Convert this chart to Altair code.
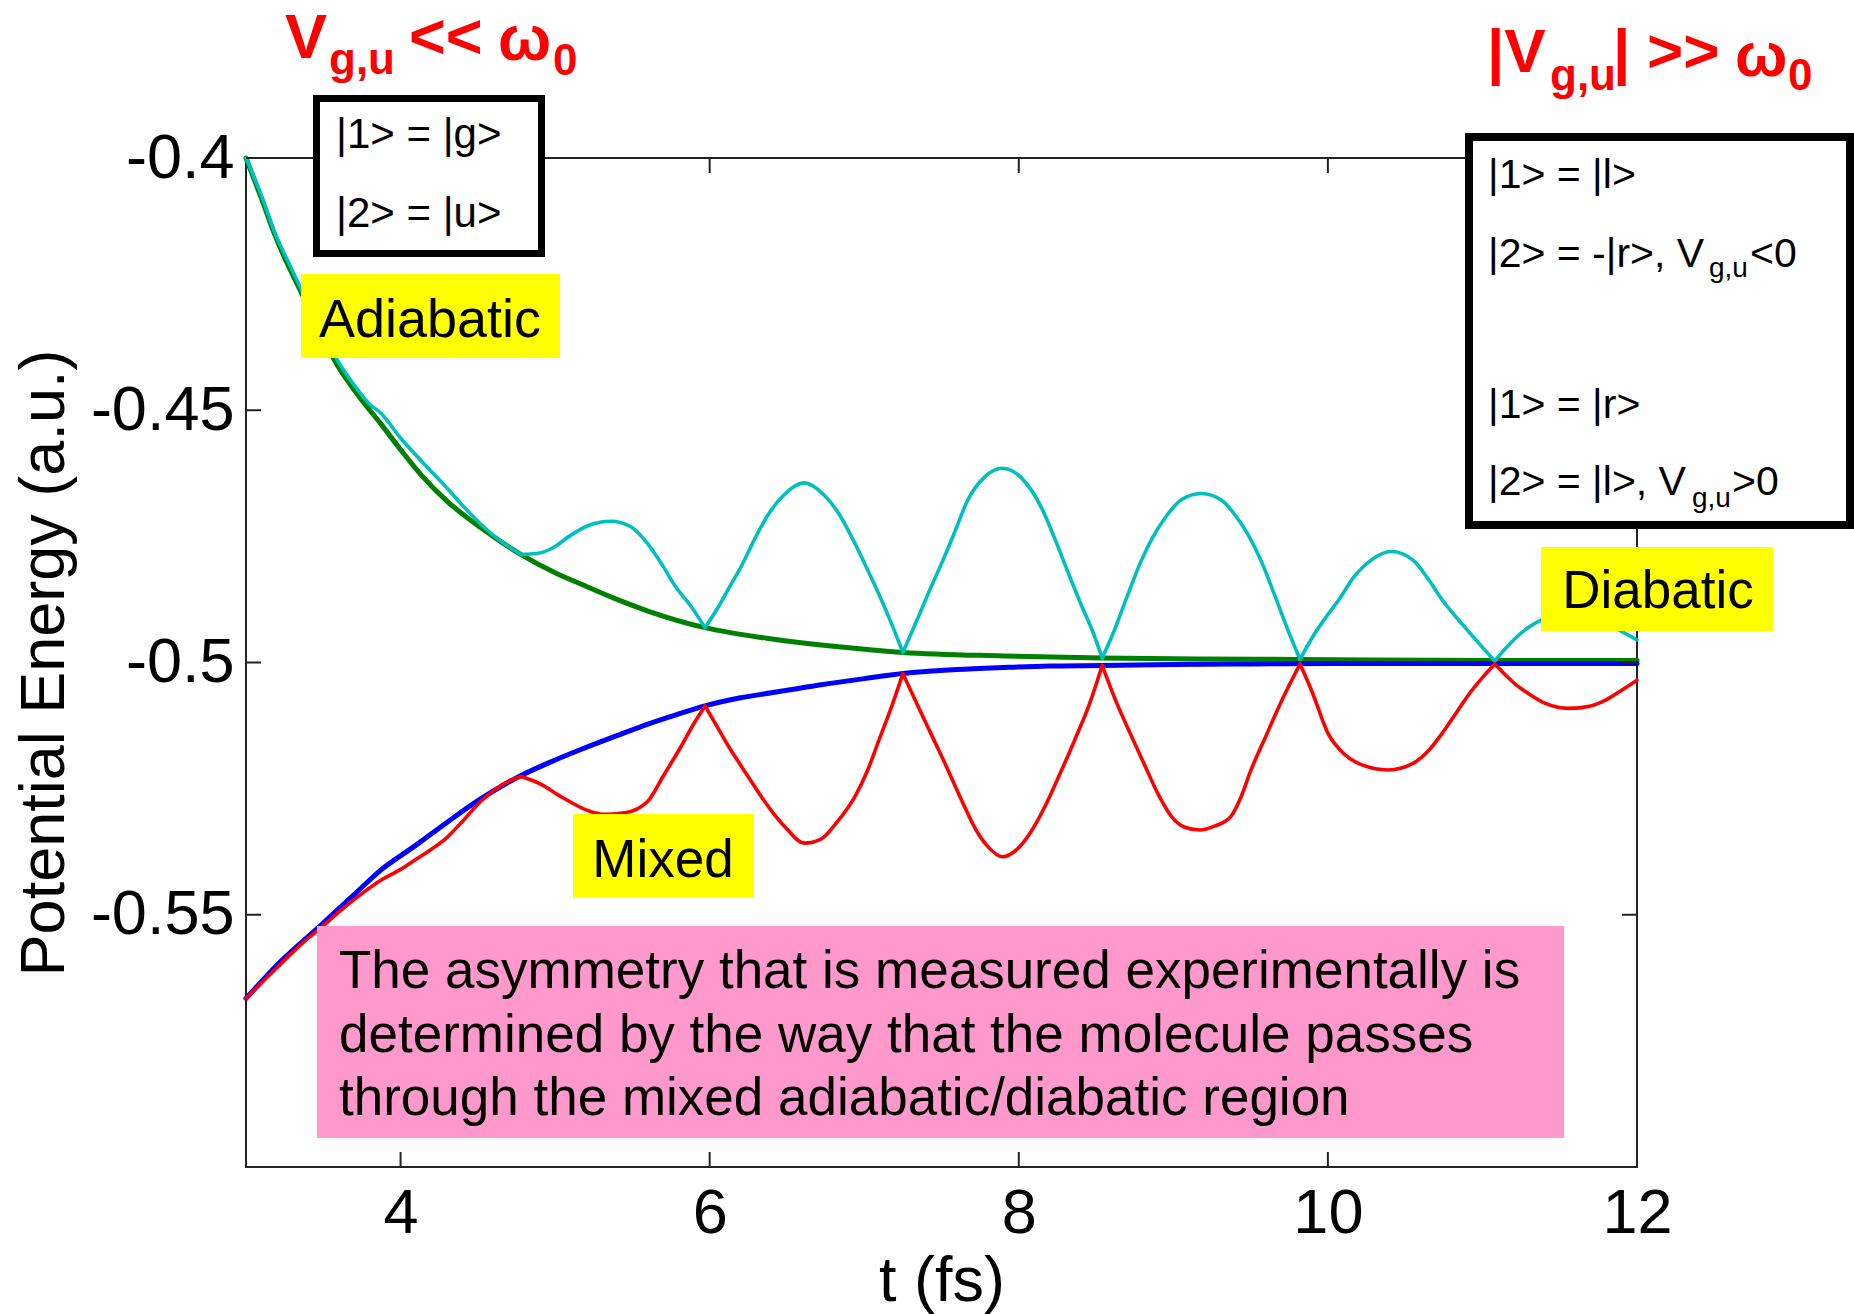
import altair as alt
import pandas as pd

FONT = "Liberation Sans"
FRAME = "#222222"

# Adiabatic upper surface (green)
green_t = [3.00, 3.10, 3.19, 3.36, 3.59, 3.75, 3.87, 4.00, 4.13, 4.30, 4.52, 4.78,
           5.00, 5.17, 5.40, 5.60, 5.97, 6.37, 6.80, 7.25, 7.90, 8.54, 9.20, 9.82,
           11.08, 12.00]
green_e = [-0.4000, -0.4080, -0.4155, -0.4268, -0.4410, -0.4480, -0.4526, -0.4578,
           -0.4627, -0.4680, -0.4733, -0.4786, -0.4822, -0.4845, -0.4875, -0.4898,
           -0.4931, -0.4952, -0.4968, -0.4980, -0.4987, -0.4991, -0.4993, -0.4994,
           -0.4996, -0.4996]

# Adiabatic lower surface (blue)
blue_t = [3.00, 3.20, 3.48, 3.70, 3.87, 4.10, 4.30, 4.52, 4.78, 4.95, 5.17, 5.40,
          5.60, 5.80, 5.97, 6.20, 6.40, 6.70, 7.00, 7.25, 7.60, 7.90, 8.20, 8.54,
          9.00, 9.50, 10.00, 11.00, 12.00]
blue_e = [-0.5666, -0.5600, -0.5522, -0.5460, -0.5412, -0.5362, -0.5317, -0.5270,
          -0.5224, -0.5200, -0.5172, -0.5145, -0.5122, -0.5102, -0.5086, -0.5070,
          -0.5060, -0.5045, -0.5032, -0.5022, -0.5014, -0.5010, -0.5007, -0.5006,
          -0.5004, -0.5003, -0.5002, -0.5002, -0.5002]

# Mixed upper surface (cyan)
cyan_t = [3.00, 3.10, 3.19, 3.28, 3.36, 3.48, 3.59, 3.70, 3.80, 3.87, 4.00, 4.13,
          4.30, 4.42, 4.52, 4.65, 4.78, 4.88, 4.99, 5.10, 5.22, 5.36, 5.49, 5.60,
          5.70, 5.78, 5.88, 5.97, 6.05, 6.12, 6.20, 6.30, 6.37, 6.48, 6.61, 6.74,
          6.85, 6.92, 7.02, 7.10, 7.17, 7.25, 7.35, 7.43, 7.51, 7.59, 7.67, 7.78,
          7.895, 8.02, 8.15, 8.24, 8.33, 8.41, 8.48, 8.54, 8.62, 8.70, 8.79, 8.87,
          8.95, 9.05, 9.18, 9.31, 9.41, 9.49, 9.57, 9.66, 9.74, 9.82, 9.90, 10.00,
          10.07, 10.17, 10.28, 10.41, 10.55, 10.65, 10.74, 10.83, 10.92, 11.00, 11.08,
          11.15, 11.22, 11.29, 11.38, 11.48, 11.56, 11.66, 11.76, 11.86, 11.94, 12.00]
cyan_e = [-0.4000, -0.4075, -0.4151, -0.4210, -0.4262, -0.4335, -0.4400, -0.4450,
          -0.4488, -0.4505, -0.4555, -0.4599, -0.4654, -0.4695, -0.4726, -0.4760,
          -0.4786, -0.4784, -0.4772, -0.4748, -0.4728, -0.4720, -0.4731, -0.4765,
          -0.4810, -0.4850, -0.4889, -0.4931, -0.4893, -0.4855, -0.4812, -0.4750,
          -0.4711, -0.4668, -0.4644, -0.4668, -0.4712, -0.4752, -0.4815, -0.4868,
          -0.4918, -0.4980, -0.4910, -0.4852, -0.4797, -0.4738, -0.4678, -0.4632,
          -0.4615, -0.4635, -0.4695, -0.4760, -0.4830, -0.4890, -0.4940, -0.4991,
          -0.4935, -0.4870, -0.4800, -0.4750, -0.4712, -0.4678, -0.4665, -0.4678,
          -0.4712, -0.4750, -0.4800, -0.4870, -0.4935, -0.4994, -0.4950, -0.4905,
          -0.4876, -0.4830, -0.4797, -0.4780, -0.4797, -0.4835, -0.4876, -0.4910,
          -0.4942, -0.4970, -0.4997, -0.4972, -0.4950, -0.4932, -0.4916, -0.4907,
          -0.4905, -0.4909, -0.4918, -0.4932, -0.4945, -0.4955]

# Mixed lower surface (red)
red_t = [3.00, 3.10, 3.20, 3.30, 3.40, 3.48, 3.60, 3.72, 3.87, 4.00, 4.10, 4.20,
         4.30, 4.40, 4.52, 4.62, 4.70, 4.78, 4.90, 5.05, 5.20, 5.31, 5.45, 5.60,
         5.70, 5.81, 5.90, 5.97, 6.05, 6.12, 6.24, 6.33, 6.42, 6.50, 6.61, 6.72,
         6.82, 6.94, 7.02, 7.10, 7.18, 7.25, 7.33, 7.43, 7.53, 7.63, 7.72, 7.80,
         7.895, 7.99, 8.08, 8.17, 8.26, 8.36, 8.46, 8.54, 8.62, 8.72, 8.82, 8.90,
         8.99, 9.07, 9.17, 9.27, 9.37, 9.44, 9.50, 9.60, 9.71, 9.82, 9.90, 10.00,
         10.10, 10.22, 10.39, 10.55, 10.65, 10.74, 10.83, 10.92, 11.00, 11.08, 11.15,
         11.22, 11.29, 11.40, 11.56, 11.70, 11.80, 11.90, 12.00]
red_e = [-0.5666, -0.5635, -0.5605, -0.5575, -0.5547, -0.5527, -0.5495, -0.5465,
         -0.5432, -0.5410, -0.5390, -0.5370, -0.5347, -0.5315, -0.5275, -0.5250,
         -0.5235, -0.5226, -0.5240, -0.5268, -0.5292, -0.5301, -0.5298, -0.5275,
         -0.5225, -0.5169, -0.5120, -0.5086, -0.5128, -0.5165, -0.5222, -0.5264,
         -0.5302, -0.5330, -0.5358, -0.5350, -0.5318, -0.5266, -0.5215, -0.5150,
         -0.5085, -0.5022, -0.5075, -0.5140, -0.5205, -0.5273, -0.5330, -0.5365,
         -0.5385, -0.5370, -0.5335, -0.5285, -0.5225, -0.5155, -0.5080, -0.5006,
         -0.5070, -0.5140, -0.5207, -0.5260, -0.5306, -0.5326, -0.5332, -0.5324,
         -0.5306, -0.5265, -0.5215, -0.5145, -0.5070, -0.5003, -0.5060, -0.5140,
         -0.5180, -0.5203, -0.5213, -0.5200, -0.5175, -0.5140, -0.5100, -0.5060,
         -0.5030, -0.5003, -0.5025, -0.5045, -0.5060, -0.5080, -0.5091, -0.5086,
         -0.5074, -0.5055, -0.5035]

# times where the mixed curves meet the adiabatic ones
crossing_t = [4.78, 5.97, 7.25, 8.54, 9.82, 11.08]

x_tick_values = [4, 6, 8, 10, 12]
y_tick_values = [-0.55, -0.5, -0.45, -0.4]

W, H = 1391, 1009
TICK = 15

x_scale = alt.Scale(domain=[3, 12], nice=False, zero=False)
y_scale = alt.Scale(domain=[-0.6, -0.4], nice=False, zero=False)

x_axis = alt.Axis(values=x_tick_values, title="t (fs)", domain=False, ticks=False,
                  tickSize=0, grid=False, labelFontSize=63, labelPadding=15,
                  labelFlush=False, labelOverlap=False, titleFontSize=63,
                  titleFontWeight="normal", titlePadding=5)
y_axis = alt.Axis(values=y_tick_values, title="Potential Energy (a.u.)", domain=False,
                  ticks=False, tickSize=0, grid=False, labelFontSize=63,
                  labelPadding=12, labelOverlap=False,
                  labelExpr="datum.value + ''", titleFontSize=63,
                  titleFontWeight="normal", titlePadding=14)


def X():
    return alt.X("t:Q", scale=x_scale, axis=x_axis)


def Y():
    return alt.Y("e:Q", scale=y_scale, axis=y_axis)


def split_arcs(ts, es, cuts):
    """Split a curve into arcs between crossing points (each cut point kept in both arcs)."""
    bounds = [ts[0]] + list(cuts) + [ts[-1]]
    rows = []
    for i in range(len(bounds) - 1):
        lo, hi = bounds[i], bounds[i + 1]
        for t, e in zip(ts, es):
            if lo <= t <= hi:
                rows.append({"t": t, "e": e, "seg": i})
    return pd.DataFrame(rows)


def curve(ts, es, color, width, cuts=()):
    df = split_arcs(ts, es, cuts)
    return alt.Chart(df).mark_line(color=color, strokeWidth=width, interpolate="monotone",
                                   strokeJoin="round", strokeCap="round").encode(
        x=X(), y=Y(), detail="seg:N")


one = pd.DataFrame({"k": [0]})


def box(x1, x2, y1, y2, fill, stroke=None, sw=0):
    opts = dict(fill=fill)
    if stroke:
        opts.update(stroke=stroke, strokeWidth=sw)
    return alt.Chart(one).mark_rect(**opts).encode(
        x=alt.value(x1), x2=alt.value(x2), y=alt.value(y1), y2=alt.value(y2))


def txt(s, x, y, size, color="black", weight="normal", align="left"):
    return alt.Chart(one).mark_text(text=s, fontSize=size, font=FONT, fontWeight=weight,
                                    color=color, align=align, baseline="alphabetic").encode(
        x=alt.value(x), y=alt.value(y))


# frame and inward ticks on all four sides
frame = alt.Chart(one).mark_rect(fillOpacity=0, stroke=FRAME, strokeWidth=2).encode(
    x=alt.value(0), x2=alt.value(W), y=alt.value(0), y2=alt.value(H))
xt = pd.DataFrame({"t": x_tick_values})
yt = pd.DataFrame({"e": y_tick_values})
ticks = [
    alt.Chart(xt).mark_rule(color=FRAME, strokeWidth=2).encode(
        x=X(), y=alt.value(H), y2=alt.value(H - TICK)),
    alt.Chart(xt).mark_rule(color=FRAME, strokeWidth=2).encode(
        x=X(), y=alt.value(0), y2=alt.value(TICK)),
    alt.Chart(yt).mark_rule(color=FRAME, strokeWidth=2).encode(
        y=Y(), x=alt.value(0), x2=alt.value(TICK)),
    alt.Chart(yt).mark_rule(color=FRAME, strokeWidth=2).encode(
        y=Y(), x=alt.value(W), x2=alt.value(W - TICK)),
]

curves = [
    curve(green_t, green_e, "#008000", 5),
    curve(blue_t, blue_e, "#0000FF", 5),
    curve(cyan_t, cyan_e, "#00BFBF", 3.6, crossing_t),
    curve(red_t, red_e, "#FF0000", 3.6, crossing_t),
]

RED = "#FF0000"
notes = [
    # basis box, weak coupling
    box(70.5, 295.5, -59.5, 95.5, "white", "black", 7),
    txt("|1> = |g>", 90, -10, 42),
    txt("|2> = |u>", 90, 69, 42),
    # basis box, strong coupling
    box(1223, 1604, -21, 367, "white", "black", 8),
    txt("|1> = |l>", 1242, 30, 41),
    txt("|2> = -|r>, V", 1242, 109, 41),
    txt("g,u", 1463, 119, 28),
    txt("<0", 1504, 109, 41),
    txt("|1> = |r>", 1242, 260, 41),
    txt("|2> = |l>, V", 1242, 337, 41),
    txt("g,u", 1446, 349, 28),
    txt(">0", 1486, 337, 41),
    # regime labels
    box(55, 314, 116, 200, "#FFFF00"),
    txt("Adiabatic", 184, 179, 54, align="center"),
    box(327, 508, 656, 740, "#FFFF00"),
    txt("Mixed", 417, 719, 53, align="center"),
    box(1295, 1527, 389, 473, "#FFFF00"),
    txt("Diabatic", 1412, 450, 53, align="center"),
    box(71, 1318, 768, 980, "#FF99CC"),
    txt("The asymmetry that is measured experimentally is", 93, 830, 53),
    txt("determined by the way that the molecule passes", 93, 894, 53),
    txt("through the mixed adiabatic/diabatic region", 93, 957, 53),
    # coupling-strength headings
    txt("V", 39, -100, 63, RED, "bold"),
    txt("g,u", 83, -84, 44, RED, "bold"),
    txt("<<", 163, -100, 63, RED, "bold"),
    txt("\u03c9", 252, -98, 63, RED, "bold"),
    txt("0", 307, -83, 44, RED, "bold"),
    txt("|V", 1241, -86, 62, RED, "bold"),
    txt("g,u", 1304, -68, 44, RED, "bold"),
    txt("|", 1367, -86, 62, RED, "bold"),
    txt(">>", 1401, -86, 62, RED, "bold"),
    txt("\u03c9", 1489, -82, 62, RED, "bold"),
    txt("0", 1542, -68, 44, RED, "bold"),
]

chart = alt.layer(frame, *curves, *ticks, *notes).properties(
    width=W, height=H,
    padding={"left": 246, "top": 158, "right": 217, "bottom": 147},
    autosize=alt.AutoSizeParams(type="none"),
).configure_view(stroke=None).configure_axis(
    labelFont=FONT, titleFont=FONT, labelColor="black", titleColor="black",
).configure(background="white")

chart.save("out.html", embed_options={"renderer": "svg", "actions": False})
